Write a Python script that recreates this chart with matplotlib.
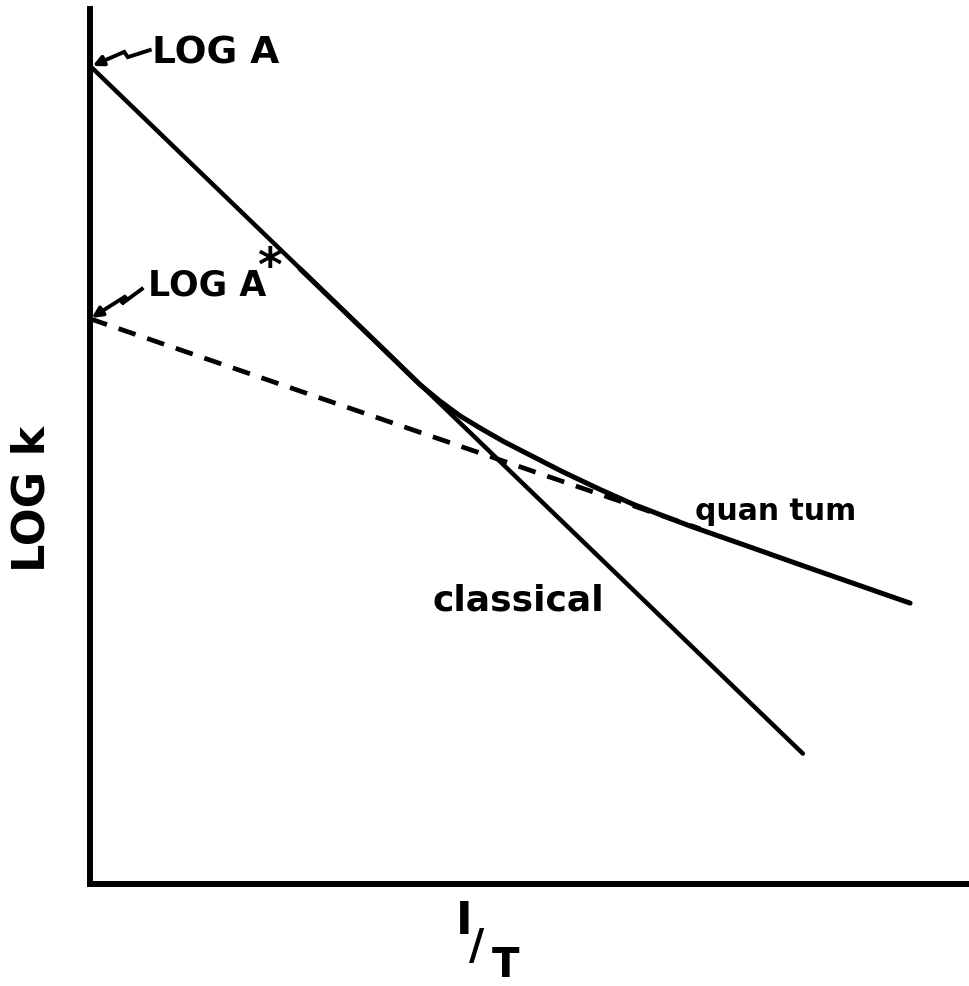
import numpy as np
import matplotlib.pyplot as plt

# log k against 1/T, arbitrary units (axes run 0..100 both ways)
classical_x = [0.0, 81.1]
classical_y = [93.5, 14.9]

# extrapolated line down to LOG A*
dashed_x = [0.0, 69.4]
dashed_y = [64.6, 40.6]

# tunnelling-corrected curve
quantum_x = [23.9, 33.0, 37.5, 39.8, 42.1, 44.4, 47.0, 50.1, 53.8, 58.0,
             61.8, 64.9, 68.3, 74.0, 81.6, 93.3]
quantum_y = [70.3, 61.5, 57.1, 55.2, 53.5, 52.1, 50.6, 49.0, 47.1, 45.1,
             43.4, 42.2, 40.9, 38.9, 36.2, 32.1]

# squiggly pointers at the intercepts
arrow_a_x = [6.8, 4.3, 3.9, 1.6]
arrow_a_y = [95.3, 94.5, 95.1, 94.1]
arrow_b_x = [5.9, 3.6, 4.1, 1.1]
arrow_b_y = [68.0, 66.3, 67.2, 65.3]

fig = plt.figure(figsize=(9.69, 9.87), dpi=100)
ax = fig.add_axes([90/969, 102/987, 879/969, 875/987])
ax.set_xlim(0, 100)
ax.set_ylim(0, 100)

ax.plot(classical_x, classical_y, color="k", lw=3.2, solid_capstyle="round")
ax.plot(dashed_x, dashed_y, color="k", lw=3.4, linestyle=(0, (3.8, 2.6)))
ax.plot(quantum_x, quantum_y, color="k", lw=3.6, solid_capstyle="round",
        solid_joinstyle="round")

for xs, ys, tip in [(arrow_a_x, arrow_a_y, (0.3, 93.5)),
                    (arrow_b_x, arrow_b_y, (0.2, 64.7))]:
    ax.plot(xs, ys, color="k", lw=2.8, solid_joinstyle="miter")
    ax.annotate("", xy=tip, xytext=(xs[-1], ys[-1]),
                arrowprops=dict(arrowstyle="-|>,head_length=0.6,head_width=0.3",
                                color="k", lw=2.8, shrinkA=0, shrinkB=0))

ax.text(7.0, 93.9, "LOG A", fontsize=27, fontweight="bold", va="baseline")
ax.text(6.6, 67.4, "LOG A", fontsize=25, fontweight="bold", va="baseline")
ax.text(20.4, 70.5, "*", fontsize=34, fontweight="bold", ha="center", va="center")
ax.text(39.0, 31.4, "classical", fontsize=26, fontweight="bold", va="baseline")
ax.text(68.8, 41.7, "quan tum", fontsize=21.5, fontweight="bold", va="baseline")

# axis titles
ax.text(-0.066, 0.441, "LOG k", transform=ax.transAxes, fontsize=32,
        fontweight="bold", rotation=90, ha="center", va="center")
ax.text(0.426, -0.042, "I", transform=ax.transAxes, fontsize=32,
        fontweight="bold", ha="center", va="center")
ax.text(0.440, -0.071, "/", transform=ax.transAxes, fontsize=30,
        fontweight="bold", ha="center", va="center")
ax.text(0.473, -0.116, "T", transform=ax.transAxes, fontsize=29,
        fontweight="bold", ha="center", va="bottom")

for side in ["top", "right"]:
    ax.spines[side].set_visible(False)
for side in ["left", "bottom"]:
    ax.spines[side].set_linewidth(4.3)
ax.set_xticks([])
ax.set_yticks([])

fig.savefig("out.png", dpi=100)
